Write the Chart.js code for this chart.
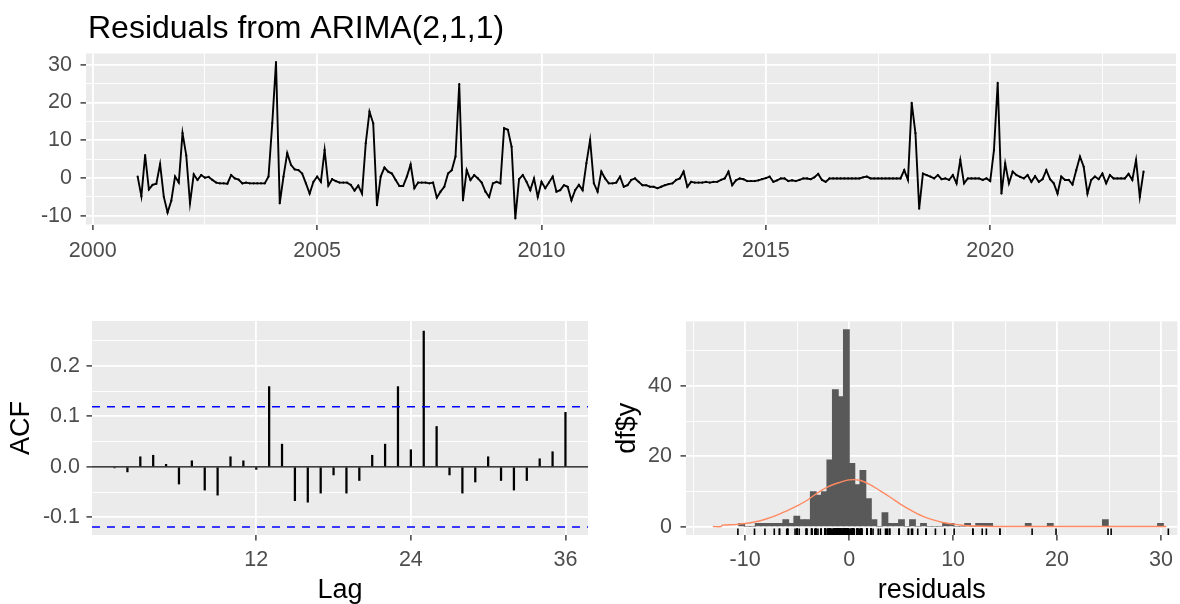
<!DOCTYPE html>
<html>
<head>
<meta charset="utf-8">
<script src="https://cdn.jsdelivr.net/npm/chart.js@4.4.1/dist/chart.umd.min.js"></script>
<style>
  html, body { margin: 0; padding: 0; background: #fff; }
  body { width: 1180px; height: 604px; position: relative; overflow: hidden; }
  canvas { position: absolute; }
  #residuosChart { left: 0; top: 0; }
  #acfChart { left: 0; top: 300px; }
  #histChart { left: 600px; top: 300px; }
</style>
</head>
<body>
<canvas id="residuosChart" width="1180" height="300"></canvas>
<canvas id="acfChart" width="600" height="304"></canvas>
<canvas id="histChart" width="580" height="304"></canvas>
<script>
// ---- Datos: residuos mensuales (ene 2001 - jun 2023) ----
const titulo = 'Residuals from ARIMA(2,1,1)';
const inicioSerie = 2001;
const residuos = [
  0.4, -4.8, 6.1, -3.0, -1.8, -1.5, 3.7, -5.0, -9.1, -6.0, 0.4, -1.2,
  11.9, 6.0, -6.7, 1.0, -0.5, 0.8, 0.1, 0.3, -0.5, -1.2, -1.4, -1.4,
  -1.5, 0.8, -0.1, -0.4, -1.4, -1.2, -1.4, -1.4, -1.4, -1.4, -1.4, 0.4,
  14.5, 30.7, -6.7, 0.4, 6.6, 3.5, 2.3, 2.1, 1.2, -1.4, -4.1, -1.0,
  0.4, -1.0, 7.4, -2.0, -0.3, -0.8, -1.2, -1.2, -1.2, -1.8, -3.3, -2.0,
  -4.1, 9.2, 17.6, 14.5, -7.2, 0.4, 2.8, 1.7, 1.2, -0.5, -2.1, -2.1,
  0.4, 3.6, -2.7, -1.2, -1.2, -1.2, -1.4, -1.2, -5.2, -3.6, -2.3, 1.2,
  2.1, 5.7, 24.9, -5.9, 2.1, -0.5, 0.8, -0.1, -1.2, -3.6, -5.0, -1.4,
  -1.0, -1.4, 13.2, 12.8, 8.3, -10.7, -0.3, 0.8, -1.0, -3.2, -0.1, -5.0,
  -1.0, -2.7, -1.2, 0.4, -3.6, -3.2, -1.9, -2.3, -5.9, -3.2, -1.8, -3.2,
  3.9, 10.1, -1.4, -3.6, 1.7, -0.1, -1.4, -1.4, -1.2, 0.4, -2.3, -1.9,
  -0.5, -0.1, -1.0, -1.9, -1.9, -2.3, -2.3, -2.7, -2.3, -1.9, -1.6, -1.4,
  -0.5, -0.1, 1.7, -2.3, -1.0, -1.2, -1.2, -1.2, -1.0, -1.2, -1.0, -1.0,
  -0.5, -0.1, 1.7, -1.9, -0.6, -0.1, -0.3, -0.8, -0.8, -0.8, -0.6, -0.3,
  0.0, 0.4, -1.0, -0.6, -0.1, -0.1, -0.8, -0.6, -0.8, -0.5, -0.1, -0.1,
  -0.3, 0.2, 1.1, -0.5, -1.0, -0.1, -0.1, -0.1, -0.1, -0.1, -0.1, -0.1,
  -0.1, -0.1, 0.2, 0.4, -0.1, -0.1, -0.1, -0.1, -0.1, -0.1, -0.1, -0.1,
  -0.1, 2.1, -0.5, 19.9, 11.9, -8.1, 1.2, 0.8, 0.4, -0.1, 0.8, -0.3,
  -0.1, -0.5, 0.8, -1.4, 4.8, -1.4, -0.1, -0.1, -0.1, -0.1, -0.5, -0.1,
  -0.8, 7.4, 25.2, -4.1, 3.9, -1.4, 1.7, 0.8, 0.3, -0.1, 0.8, -1.0,
  0.5, -1.0, -0.3, 2.1, -0.3, -1.4, -4.1, 0.4, -0.5, -0.5, -1.7, 2.1,
  5.7, 3.0, -4.1, -0.5, 0.4, -0.3, 1.2, -1.4, 0.8, -0.1, -0.1, -0.1,
  -0.1, 1.1, -0.5, 4.8, -5.0, 1.7
];
const anosTicks = [2000, 2002.5, 2005, 2007.5, 2010, 2012.5, 2015, 2017.5, 2020, 2022.5];
const anosMayores = [2000, 2005, 2010, 2015, 2020];
const residuosTicks = [-10, -5, 0, 5, 10, 15, 20, 25, 30];
const residuosMayores = [-10, 0, 10, 20, 30];

// ---- Datos: ACF ----
const lags = [1, 2, 3, 4, 5, 6, 7, 8, 9, 10, 11, 12, 13, 14, 15, 16, 17, 18,
  19, 20, 21, 22, 23, 24, 25, 26, 27, 28, 29, 30, 31, 32, 33, 34, 35, 36];
const acfValores = [-0.002, -0.010, 0.020, 0.023, 0.005, -0.034, 0.012, -0.046, -0.056,
  0.020, 0.012, -0.005, 0.159, 0.045, -0.067, -0.070, -0.052, -0.016, -0.052, -0.027,
  0.023, 0.045, 0.159, 0.034, 0.269, 0.080, -0.016, -0.052, -0.030, 0.020, -0.027,
  -0.046, -0.027, 0.016, 0.030, 0.108];
const acfLimite = 0.119;
const lagTicks = [12, 24, 36];
const acfTicks = [-0.1, -0.05, 0, 0.05, 0.1, 0.15, 0.2, 0.25];
const acfMayores = [-0.1, 0, 0.1, 0.2];

// ---- Datos: histograma ----
const binInicio = -10.6;
const binAncho = 0.53;
const conteos = [
  1, 0, 0, 1, 1, 1, 1, 1, 2, 1, 3, 2, 2, 10, 9, 10, 19, 39, 37, 56,
  18, 12, 16, 8, 2, 0, 4, 1, 1, 2, 0, 2, 0, 1, 0, 0, 0, 1, 1, 0,
  0, 1, 0, 1, 1, 1, 0, 0, 0, 0, 0, 0, 1, 0, 0, 0, 1, 0, 0, 0,
  0, 0, 0, 0, 0, 0, 2, 0, 0, 0, 0, 0, 0, 0, 0, 0, 1
];
const normalX = [-13.1, -12.3, -12.2, -11, -10, -9, -8, -7, -6, -5, -4, -3, -2, -1, 0,
  1, 2, 3, 4, 5, 6, 7, 8, 9, 10, 10.5, 11, 12, 14, 17, 20, 25, 30.5];
const normalY = [0.05, 0.05, 0.45, 0.6, 0.9, 1.4, 2.2, 3.2, 4.5, 5.9, 7.6, 9.7, 11.4, 12.5, 13.3,
  13.2, 12.0, 10.2, 8.3, 6.3, 4.6, 3.1, 2.0, 1.2, 0.75, 0.6, 0.35, 0.2, 0.08, 0.05, 0.05, 0.05, 0.05];
const histXTicks = [-15, -10, -5, 0, 5, 10, 15, 20, 25, 30];
const histXMayores = [-10, 0, 10, 20, 30];
const histYTicks = [0, 10, 20, 30, 40, 50];
const histYMayores = [0, 20, 40];

// ---- Estilo comun ----
const fuente = '"Liberation Sans", Arial, sans-serif';
const fuenteTicks = { family: fuente, size: 21.5 };
const fuenteTitulos = { family: fuente, size: 27, lineHeight: 1 };

// fondo gris del panel
const panelFondo = {
  id: 'panelFondo',
  beforeDraw(chart) {
    const { ctx, chartArea: a } = chart;
    ctx.save();
    ctx.fillStyle = '#EBEBEB';
    ctx.fillRect(a.left, a.top, a.right - a.left, a.bottom - a.top);
    ctx.restore();
  }
};

// titulo arriba a la izquierda del panel
const tituloPanel = {
  id: 'tituloPanel',
  afterDraw(chart) {
    const ctx = chart.ctx;
    ctx.save();
    ctx.font = '32px ' + fuente;
    ctx.fillStyle = '#000000';
    ctx.textBaseline = 'alphabetic';
    ctx.fillText(titulo, chart.chartArea.left + 2, 37.5);
    ctx.restore();
  }
};

// rug de los residuos debajo del histograma
const rugResiduos = {
  id: 'rugResiduos',
  afterDatasetsDraw(chart) {
    const { ctx, chartArea: a, scales } = chart;
    ctx.save();
    ctx.beginPath();
    ctx.rect(a.left, a.top, a.right - a.left, a.bottom - a.top);
    ctx.clip();
    ctx.strokeStyle = '#000000';
    ctx.lineWidth = 1.6;
    const largo = (a.bottom - a.top) * 0.03;
    residuos.forEach(v => {
      const x = scales.x.getPixelForValue(v);
      ctx.beginPath();
      ctx.moveTo(x, a.bottom - largo);
      ctx.lineTo(x, a.bottom);
      ctx.stroke();
    });
    ctx.restore();
  }
};

// eje al estilo ggplot: lineas mayores y menores, ticks solo en las mayores
function eje({ min, max, ticks, mayores, formato, tamano, vertical, padLabel, titulo, padTitulo }) {
  const esMayor = (c) => c.tick && mayores.includes(c.tick.value);
  return {
    type: 'linear',
    position: vertical ? 'left' : 'bottom',
    min, max,
    offset: false,
    afterBuildTicks: (scale) => { scale.ticks = ticks.map(v => ({ value: v })); },
    afterFit: (scale) => { if (vertical) scale.width = tamano; else scale.height = tamano; },
    border: { display: false },
    grid: {
      offset: false,
      color: '#FFFFFF',
      lineWidth: (c) => esMayor(c) ? 1.8 : 0.9,
      tickColor: (c) => esMayor(c) ? '#333333' : 'rgba(0,0,0,0)',
      tickLength: 5.5,
      tickWidth: 1.4
    },
    ticks: {
      autoSkip: false,
      maxRotation: 0,
      minRotation: 0,
      padding: padLabel,
      color: '#4D4D4D',
      font: fuenteTicks,
      callback: (v) => mayores.includes(v) ? formato(v) : ''
    },
    title: titulo ? {
      display: true,
      text: titulo,
      color: '#000000',
      font: fuenteTitulos,
      padding: vertical ? { top: padTitulo, bottom: 0 } : { top: 0, bottom: padTitulo }
    } : { display: false }
  };
}

const opcionesBase = {
  responsive: false,
  animation: false,
  events: [],
  plugins: { legend: { display: false }, tooltip: { enabled: false } }
};

// ---- Grafico 1: serie de residuos ----
new Chart(document.getElementById('residuosChart'), {
  type: 'line',
  data: {
    datasets: [{
      data: residuos.map((y, i) => ({ x: inicioSerie + i / 12, y })),
      borderColor: '#000000',
      borderWidth: 1.9,
      pointRadius: 1.1,
      pointBackgroundColor: '#000000',
      pointBorderWidth: 0,
      tension: 0
    }]
  },
  options: {
    ...opcionesBase,
    layout: { padding: { top: 53.5, left: 0, right: 0, bottom: 0 } },
    scales: {
      x: eje({ min: 1999.849, max: 2024.14, ticks: anosTicks, mayores: anosMayores,
        formato: v => String(v), tamano: 75.5, vertical: false, padLabel: 8 }),
      y: eje({ min: -12.3, max: 33.0, ticks: residuosTicks, mayores: residuosMayores,
        formato: v => String(v), tamano: 86, vertical: true, padLabel: 8.5 })
    }
  },
  plugins: [panelFondo, tituloPanel]
});

// ---- Grafico 2: ACF ----
const acfXMin = -0.75;
const acfXMax = 37.75;
new Chart(document.getElementById('acfChart'), {
  type: 'line',
  data: {
    datasets: [
      {
        type: 'bar',
        data: lags.map((l, i) => ({ x: l, y: acfValores[i] })),
        backgroundColor: '#000000',
        barThickness: 1.6,
        order: 2
      },
      {
        data: [{ x: acfXMin, y: 0 }, { x: acfXMax, y: 0 }],
        borderColor: '#000000', borderWidth: 1.4, pointRadius: 0, order: 1
      },
      {
        data: [{ x: acfXMin, y: acfLimite }, { x: acfXMax, y: acfLimite }],
        borderColor: '#0000FF', borderWidth: 1.5, borderDash: [8, 7], pointRadius: 0, order: 0
      },
      {
        data: [{ x: acfXMin, y: -acfLimite }, { x: acfXMax, y: -acfLimite }],
        borderColor: '#0000FF', borderWidth: 1.5, borderDash: [8, 7], pointRadius: 0, order: 0
      }
    ]
  },
  options: {
    ...opcionesBase,
    layout: { padding: { top: 21, left: 0, right: 12, bottom: 0 } },
    scales: {
      x: eje({ min: acfXMin, max: acfXMax, ticks: lagTicks, mayores: lagTicks,
        formato: v => String(v), tamano: 69, vertical: false, padLabel: 7,
        titulo: 'Lag', padTitulo: 0 }),
      y: eje({ min: -0.135, max: 0.289, ticks: acfTicks, mayores: acfMayores,
        formato: v => v.toFixed(1), tamano: 92, vertical: true, padLabel: 6.5,
        titulo: 'ACF', padTitulo: 8.5 })
    }
  },
  plugins: [panelFondo]
});

// ---- Grafico 3: histograma de residuos ----
const histXMin = -15.69;
const histXMax = 31.58;
const anchoPanelHist = 494;
new Chart(document.getElementById('histChart'), {
  type: 'line',
  data: {
    datasets: [
      {
        type: 'bar',
        data: conteos.map((c, i) => ({ x: binInicio + binAncho * (i + 0.5), y: c })),
        backgroundColor: '#595959',
        borderWidth: 0,
        barThickness: binAncho * anchoPanelHist / (histXMax - histXMin) + 0.6,
        order: 2
      },
      {
        data: normalX.map((x, i) => ({ x, y: normalY[i] })),
        borderColor: '#FF8A62',
        borderWidth: 1.4,
        pointRadius: 0,
        tension: 0.3,
        order: 1
      }
    ]
  },
  options: {
    ...opcionesBase,
    layout: { padding: { top: 21, left: 0, right: 0, bottom: 0 } },
    scales: {
      x: eje({ min: histXMin, max: histXMax, ticks: histXTicks, mayores: histXMayores,
        formato: v => String(v), tamano: 69, vertical: false, padLabel: 7,
        titulo: 'residuals', padTitulo: 0 }),
      y: eje({ min: -2.35, max: 58.35, ticks: histYTicks, mayores: histYMayores,
        formato: v => String(v), tamano: 86, vertical: true, padLabel: 8.5,
        titulo: 'df$y', padTitulo: 14.5 })
    }
  },
  plugins: [panelFondo, rugResiduos]
});
</script>
</body>
</html>
